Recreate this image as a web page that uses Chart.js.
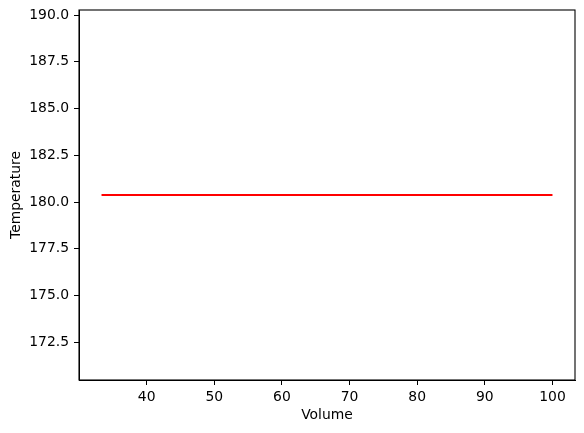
<!DOCTYPE html>
<html>
<head>
<meta charset="utf-8">
<script src="https://cdn.jsdelivr.net/npm/chart.js@4"></script>
<style>
  html, body { margin: 0; padding: 0; background: #fff; }
  #wrap { width: 584px; height: 433px; position: relative; }
</style>
</head>
<body>
<div id="wrap"><canvas id="chart"></canvas></div>
<script>
// data
const volume = [33.33, 100]
const temperature = [180.37, 180.37]
const xTicks = [40, 50, 60, 70, 80, 90, 100]
const yTicks = [172.5, 175.0, 177.5, 180.0, 182.5, 185.0, 187.5, 190.0]
const xRange = [30, 103.33]
const yRange = [170.48, 190.27]

Chart.defaults.font.family = 'DejaVu Sans'
Chart.defaults.font.size = 13.9
Chart.defaults.color = '#000'

// matplotlib-like frame on all four sides
const frame = {
  id: 'frame',
  afterDatasetsDraw(chart) {
    const { ctx, chartArea: a } = chart
    ctx.save()
    ctx.strokeStyle = '#000'
    ctx.lineWidth = 1.1
    ctx.strokeRect(a.left, a.top, a.right - a.left, a.bottom - a.top)
    ctx.restore()
  }
}

const ctx = document.getElementById('chart').getContext('2d')
new Chart(ctx, {
  type: 'scatter',
  data: {
    datasets: [
      {
        data: volume.map((v, i) => ({ x: v, y: temperature[i] })),
        showLine: true,
        borderColor: '#ff0000',
        borderWidth: 2,
        pointRadius: 0,
        fill: false
      }
    ]
  },
  options: {
    responsive: true,
    maintainAspectRatio: false,
    animation: false,
    layout: { padding: { top: 10, right: 9, left: 0, bottom: 0 } },
    plugins: {
      legend: { display: false },
      tooltip: { enabled: false }
    },
    scales: {
      x: {
        type: 'linear',
        min: xRange[0],
        max: xRange[1],
        afterBuildTicks: (axis) => { axis.ticks = xTicks.map((v) => ({ value: v })) },
        afterFit: (axis) => {
          axis.height = 53
          axis.paddingLeft = 0
          axis.paddingRight = 0
        },
        grid: { drawOnChartArea: false, tickLength: 5, tickColor: '#000', tickWidth: 1 },
        border: { color: '#000', width: 1 },
        ticks: { padding: 4, maxRotation: 0, autoSkip: false },
        title: { display: true, text: 'Volume', padding: { top: 9, bottom: 9 } }
      },
      y: {
        type: 'linear',
        min: yRange[0],
        max: yRange[1],
        afterBuildTicks: (axis) => { axis.ticks = yTicks.map((v) => ({ value: v })) },
        afterFit: (axis) => {
          axis.width = 79
          axis.paddingTop = 0
          axis.paddingBottom = 0
        },
        grid: { drawOnChartArea: false, tickLength: 5, tickColor: '#000', tickWidth: 1 },
        border: { color: '#000', width: 1 },
        ticks: {
          padding: 5,
          autoSkip: false,
          callback: (value) => value.toFixed(1)
        },
        title: { display: true, text: 'Temperature', padding: { top: 8, bottom: 8 } }
      }
    }
  },
  plugins: [frame]
})
</script>
</body>
</html>
